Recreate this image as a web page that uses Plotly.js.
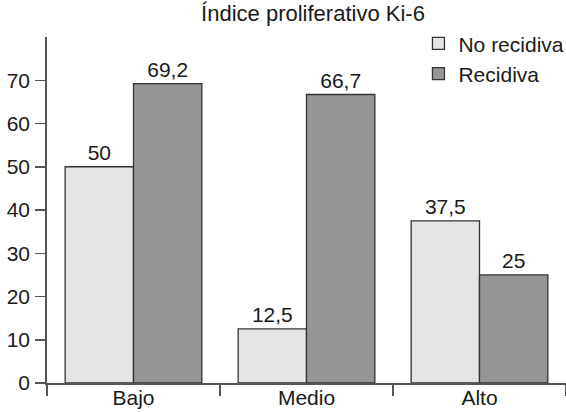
<!DOCTYPE html>
<html>
<head>
<meta charset="utf-8">
<script src="https://cdn.plot.ly/plotly-3.0.1.min.js"></script>
<style>html,body{margin:0;padding:0;background:#fff;}#chart{width:566px;height:412px;}</style>
</head>
<body>
<div id="chart"></div>
<script>
var categories = ["Bajo", "Medio", "Alto"];
var seriesNames = ["No recidiva", "Recidiva"];
var noRecidiva = [50, 12.5, 37.5];
var recidiva = [69.2, 66.7, 25];
var yTicks = [0, 10, 20, 30, 40, 50, 60, 70];
var chartTitle = "Índice proliferativo Ki-6";

function fmt(v) { return String(v).replace('.', ','); }

var font = {family: "Liberation Sans, Arial, sans-serif", size: 21, color: "#1a1a1a"};

var traces = [
  {
    type: "bar", name: seriesNames[0], x: categories, y: noRecidiva,
    text: noRecidiva.map(fmt), textposition: "outside", cliponaxis: false,
    textfont: font,
    marker: {color: "#e5e5e5", line: {color: "#333333", width: 1.3}}
  },
  {
    type: "bar", name: seriesNames[1], x: categories, y: recidiva,
    text: recidiva.map(fmt), textposition: "outside", cliponaxis: false,
    textfont: font,
    marker: {color: "#969696", line: {color: "#333333", width: 1.3}}
  }
];

var layout = {
  width: 566, height: 412,
  margin: {l: 47, r: 0, t: 37, b: 29, pad: 0, autoexpand: false},
  paper_bgcolor: "#fff", plot_bgcolor: "#fff",
  font: font,
  title: {text: chartTitle, font: {family: font.family, size: 22, color: "#1a1a1a"}, x: 0.553, xanchor: "center", y: 0.986, yanchor: "top"},
  barmode: "group", bargap: 0.21, bargroupgap: 0,
  showlegend: true,
  legend: {x: 0.7157, y: 1.04, xanchor: "left", yanchor: "top", bgcolor: "rgba(0,0,0,0)", font: font, tracegroupgap: 0, itemwidth: 30},
  xaxis: {
    type: "category", tickson: "boundaries", ticks: "outside", ticklen: 11, tickwidth: 1.5, tickcolor: "#555",
    showline: true, linecolor: "#555", linewidth: 1.8, showgrid: false, zeroline: false,
    tickfont: font, ticklabelstandoff: -5
  },
  yaxis: {
    range: [0, 80], tickvals: yTicks, ticktext: yTicks.map(String), ticks: "outside", ticklen: 10, tickwidth: 1.5, tickcolor: "#555",
    showline: true, linecolor: "#555", linewidth: 1.8, showgrid: false, zeroline: false,
    tickfont: font, ticklabelstandoff: 1
  }
};

Plotly.newPlot("chart", traces, layout, {staticPlot: true});
</script>
</body>
</html>
